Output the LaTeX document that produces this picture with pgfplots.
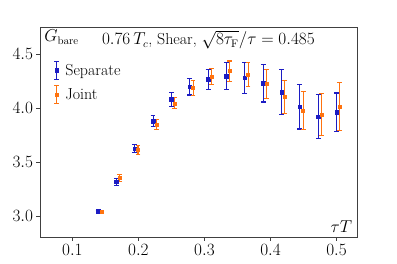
\documentclass[border=0pt]{standalone}
\usepackage{pgfplots}
\pgfplotsset{compat=1.18}
\definecolor{sepblue}{RGB}{28,28,195}
\definecolor{jointorange}{RGB}{255,115,15}
\begin{document}
\begin{tikzpicture}
\path[use as bounding box] (0,0) rectangle (397bp,264bp);
\begin{axis}[
  at={(40bp,27bp)}, anchor=south west,
  scale only axis, width=317bp, height=210bp,
  xmin=0.051, xmax=0.531, ymin=2.806, ymax=4.752,
  xtick={0.1,0.2,0.3,0.4,0.5},
  ytick={3.0,3.5,4.0,4.5},
  xticklabel style={/pgf/number format/fixed,/pgf/number format/precision=1,/pgf/number format/fixed zerofill},
  yticklabel style={/pgf/number format/fixed,/pgf/number format/precision=1,/pgf/number format/fixed zerofill},
  tick label style={font=\fontsize{16}{18}\selectfont},
  tick align=outside, xtick pos=bottom, ytick pos=left,
  major tick length=3.5bp,
  axis line style={black!75, line width=0.8bp},
  every tick/.style={black!75, line width=0.8bp},
  legend style={at={(0.04,0.845)}, anchor=north west, draw=none, fill=none,
    font=\fontsize{16}{18}\selectfont, row sep=5bp, inner sep=1bp,
    nodes={inner sep=1.5bp}},
  legend cell align=left,
  clip=false,
]
\addplot+[sepblue, only marks, mark=square*, mark size=1.8bp,
  mark options={fill=sepblue, draw=sepblue},
  legend image code/.code={
    \path[draw=none, fill=none] (-3bp,0bp) rectangle (7bp,0bp);
    \draw[sepblue, line width=1.1bp] (0bp,-9bp) -- (0bp,9bp);
    \draw[sepblue, line width=1.1bp] (-2.4bp,-9bp) -- (2.4bp,-9bp);
    \draw[sepblue, line width=1.1bp] (-2.4bp,9bp) -- (2.4bp,9bp);
    \fill[sepblue] (-1.8bp,-1.8bp) rectangle (1.8bp,1.8bp);
  },
  error bars/.cd, y dir=both, y explicit,
  error bar style={line width=1.1bp, sepblue},
  error mark options={rotate=90, mark size=2.4bp, line width=1.1bp, sepblue},
  ]
coordinates {
(0.1389,3.044) +- (0,0.008)
(0.1667,3.317) +- (0,0.030)
(0.1944,3.624) +- (0,0.038)
(0.2222,3.879) +- (0,0.050)
(0.2500,4.082) +- (0,0.065)
(0.2778,4.200) +- (0,0.078)
(0.3056,4.266) +- (0,0.090)
(0.3333,4.297) +- (0,0.126)
(0.3611,4.282) +- (0,0.143)
(0.3889,4.229) +- (0,0.172)
(0.4167,4.146) +- (0,0.209)
(0.4444,4.014) +- (0,0.207)
(0.4722,3.922) +- (0,0.204)
(0.5000,3.962) +- (0,0.178)
};
\addlegendentry{Separate}
\addplot+[jointorange, only marks, mark=square*, mark size=1.5bp,
  mark options={fill=jointorange, draw=jointorange},
  legend image code/.code={
    \path[draw=none, fill=none] (-3bp,0bp) rectangle (7bp,0bp);
    \draw[jointorange, line width=1.1bp] (0bp,-9bp) -- (0bp,9bp);
    \draw[jointorange, line width=1.1bp] (-2.4bp,-9bp) -- (2.4bp,-9bp);
    \draw[jointorange, line width=1.1bp] (-2.4bp,9bp) -- (2.4bp,9bp);
    \fill[jointorange] (-1.5bp,-1.5bp) rectangle (1.5bp,1.5bp);
  },
  error bars/.cd, y dir=both, y explicit,
  error bar style={line width=1.1bp, jointorange},
  error mark options={rotate=90, mark size=2.4bp, line width=1.1bp, jointorange},
  ]
coordinates {
(0.1439,3.037) +- (0,0.008)
(0.1717,3.353) +- (0,0.035)
(0.1994,3.612) +- (0,0.038)
(0.2272,3.848) +- (0,0.050)
(0.2550,4.045) +- (0,0.050)
(0.2828,4.187) +- (0,0.066)
(0.3106,4.294) +- (0,0.077)
(0.3383,4.343) +- (0,0.094)
(0.3661,4.312) +- (0,0.112)
(0.3939,4.223) +- (0,0.132)
(0.4217,4.106) +- (0,0.152)
(0.4494,3.977) +- (0,0.175)
(0.4772,3.941) +- (0,0.198)
(0.5050,4.014) +- (0,0.224)
};
\addlegendentry{Joint}
\node[anchor=base west, inner sep=0, font=\fontsize{16}{18}\selectfont] at (rel axis cs:0.013,0.93) {$G_\mathrm{bare}$};
\node[anchor=base west, inner sep=0, font=\fontsize{16}{18}\selectfont] at (rel axis cs:0.195,0.915) {$0.76\,T_c$, Shear, $\sqrt{8\tau_\mathrm{F}}/\tau = 0.485$};
\node[anchor=base east, inner sep=0, font=\fontsize{16}{18}\selectfont] at (rel axis cs:0.985,0.02) {$\tau T$};
\end{axis}
\end{tikzpicture}
\end{document}
